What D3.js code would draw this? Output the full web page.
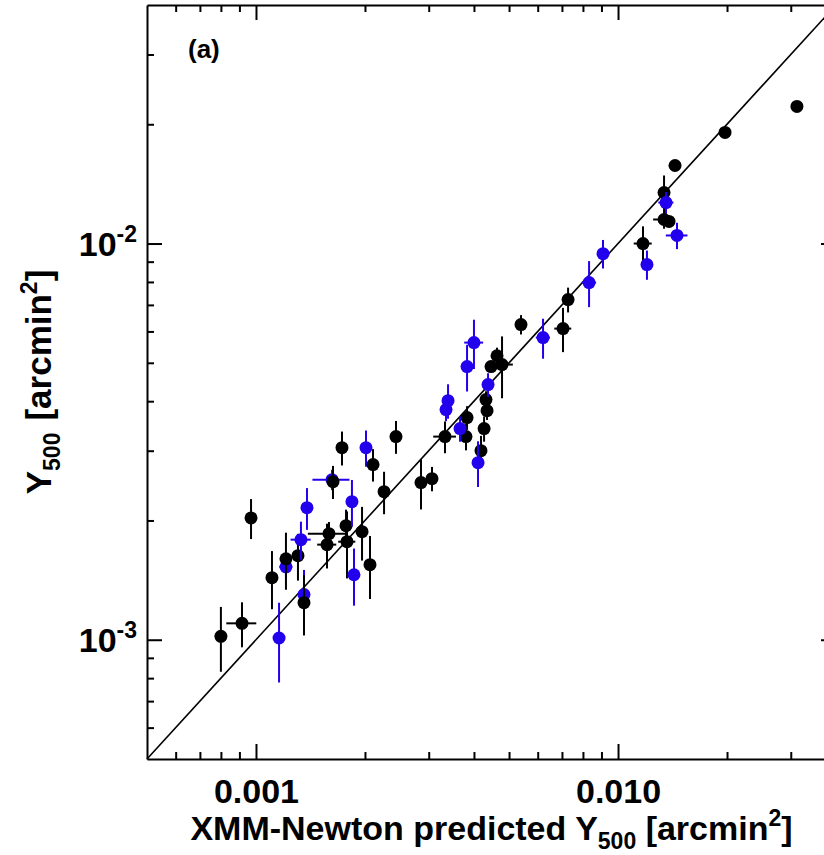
<!DOCTYPE html>
<html>
<head>
<meta charset="utf-8">
<script src="https://cdn.jsdelivr.net/npm/d3@7"></script>
<style>
  body { margin: 0; background: #fff; }
  svg { display: block; font-family: "Liberation Sans", Arial, Helvetica, sans-serif; font-weight: bold; }
</style>
</head>
<body>
<svg id="chart" width="824" height="855"></svg>
<script>
// XMM-Newton predicted Y500 (x) vs measured Y500 (y), arcmin^2, with 1-sigma errors.
// sample "a" = black points, "b" = blue points. Listed in drawing order.
const predY500 = [0.00080, 0.000915, 0.000969, 0.001107, 0.001158, 0.00121, 0.00121, 0.001306, 0.001331, 0.001357,
  0.001357, 0.001383, 0.001571, 0.001591, 0.001622, 0.001632, 0.001728, 0.001773, 0.001784, 0.001841,
  0.001865, 0.001963, 0.002013, 0.002065, 0.002105, 0.002258, 0.002436, 0.002856, 0.003063, 0.003327,
  0.003349, 0.003392, 0.003802, 0.003828, 0.003661, 0.003828, 0.0040, 0.004183, 0.004105, 0.004266,
  0.004347, 0.004318, 0.004375, 0.004459, 0.004632, 0.004782, 0.005395, 0.006207, 0.007047, 0.007278,
  0.008318, 0.00909, 0.01172, 0.01202, 0.0134, 0.01357, 0.0134, 0.01383, 0.01455, 0.01437,
  0.01975, 0.0312];
const predErr = [0, 0.000087, 0, 0, 0, 0.00005, 0, 0, 0.000085, 0,
  0, 0, 0.000095, 0.0002, 0.00019, 0, 0, 0, 0.000097, 0,
  0, 0, 0, 0, 0, 0, 0, 0, 0, 0.00024,
  0, 0, 0, 0, 0, 0, 0.00024, 0, 0, 0,
  0, 0, 0, 0, 0, 0.00034, 0, 0.00028, 0.00038, 0.00027,
  0.00038, 0, 0.00067, 0, 0, 0.00065, 0.0009, 0, 0.001, 0.00055,
  0, 0];
const obsY500 = [0.00102, 0.00110, 0.00203, 0.001434, 0.00101, 0.001528, 0.00160, 0.00163, 0.001789, 0.00130,
  0.00124, 0.002154, 0.001738, 0.001852, 0.002535, 0.002506, 0.003053, 0.00194, 0.001768, 0.002231,
  0.001459, 0.001874, 0.003053, 0.001547, 0.002767, 0.002364, 0.003256, 0.002492, 0.00255, 0.003256,
  0.00381, 0.004013, 0.003256, 0.003636, 0.003411, 0.004892, 0.005623, 0.0030, 0.002799, 0.003411,
  0.003786, 0.004037, 0.004405, 0.004892, 0.00521, 0.004949, 0.006245, 0.00579, 0.0061, 0.00722,
  0.00797, 0.00943, 0.0100, 0.00885, 0.01345, 0.01269, 0.0115, 0.01137, 0.01048, 0.01574,
  0.01907, 0.02218];
const obsErr = [0.00019, 0.000143, 0.000235, 0.00024, 0.00023, 0.0001, 0.000263, 0.00022, 0.000197, 0.0002,
  0.000215, 0.00026, 0.000225, 0.00013, 0.00015, 0.00024, 0.0003, 0.00019, 0.00034, 0.0003,
  0.00024, 0.00029, 0.00032, 0.00028, 0.00026, 0.00029, 0.00031, 0.00036, 0.00018, 0.0003,
  0.00025, 0.0004, 0.00025, 0.00025, 0.00025, 0.00066, 0.0008, 0.00027, 0.00037, 0.00025,
  0.0002, 0.0002, 0.0003, 0.00015, 0.00025, 0.00088, 0.00035, 0.00067, 0.00078, 0.00052,
  0.00106, 0.00078, 0.00105, 0.00075, 0.0014, 0.0008, 0.0006, 0.0003, 0.0008, 0.0003,
  0.0003, 0.0004];
const sample = ["a", "a", "a", "a", "b", "b", "a", "a", "b", "b",
  "a", "b", "a", "a", "b", "a", "a", "a", "a", "b",
  "b", "a", "b", "a", "a", "a", "a", "a", "a", "a",
  "b", "b", "a", "a", "b", "b", "b", "a", "b", "a",
  "a", "a", "b", "a", "a", "a", "a", "b", "a", "a",
  "b", "b", "a", "b", "a", "b", "a", "a", "b", "a",
  "a", "a"];

const xMajor = [0.001, 0.01];
const xMajorLabels = ["0.001", "0.010"];
const xMinor = [0.0006, 0.0007, 0.0008, 0.0009, 0.002, 0.003, 0.004, 0.005, 0.006, 0.007, 0.008, 0.009, 0.02, 0.03];
const yMajor = [0.001, 0.01];
const yMajorExp = ["-3", "-2"];
const yMinor = xMinor;

const color = {a: "#000000", b: "#2200ee"};

const svg = d3.select("#chart");
const x0 = 147, x1 = 836, y0 = 759, y1 = 5; // right edge of the frame falls outside the page

const x = d3.scaleLog().domain([5e-4, 4e-2]).range([x0, x1]);
const y = d3.scaleLog().domain([5e-4, 4e-2]).range([y0, y1]);

const styleAxis = g => {
  g.attr("font-size", null).attr("font-family", null);
  g.selectAll("path, line").attr("stroke", "#000").attr("stroke-width", 2);
};

// frame + ticks on all four sides, pointing inward
function axisSet(make, scale, pos, transform, major, minor, fmt) {
  svg.append("g").attr("transform", transform)
      .call(make(scale).tickValues(minor).tickSize(-7).tickSizeOuter(0).tickFormat(""))
      .call(styleAxis)
      .call(g => g.select(".domain").remove());
  return svg.append("g").attr("transform", transform)
      .call(make(scale).tickValues(major).tickSize(-15).tickSizeOuter(0).tickPadding(pos).tickFormat(fmt))
      .call(styleAxis);
}

const xAxis = axisSet(d3.axisBottom, x, 20, `translate(0,${y0})`, xMajor, xMinor, (d, i) => xMajorLabels[i]);
xAxis.selectAll("text").attr("font-size", 34).attr("fill", "#000");
axisSet(d3.axisTop, x, 0, `translate(0,${y1})`, xMajor, xMinor, "");

const yAxis = axisSet(d3.axisLeft, y, 10, `translate(${x0},0)`, yMajor, yMinor, "");
yAxis.selectAll(".tick text").each(function(d, i) {
  const t = d3.select(this).attr("font-size", 34).attr("fill", "#000").attr("dy", "0.36em");
  t.append("tspan").text("10");
  t.append("tspan").attr("font-size", 23).attr("dy", -14).text(yMajorExp[i]);
});
axisSet(d3.axisRight, y, 0, `translate(${x1},0)`, yMajor, yMinor, "");

// one-to-one line
svg.append("line")
    .attr("x1", x(5e-4)).attr("y1", y(5e-4))
    .attr("x2", x(4e-2)).attr("y2", y(4e-2))
    .attr("stroke", "#000").attr("stroke-width", 1.6);

// points with error bars
const pts = predY500.map((v, i) => ({x: v, dx: predErr[i], y: obsY500[i], dy: obsErr[i], s: sample[i]}));

const pt = svg.append("g").selectAll("g")
    .data(pts)
    .join("g")
    .attr("stroke", d => color[d.s])
    .attr("fill", d => color[d.s]);

pt.append("line")
    .attr("x1", d => x(d.x)).attr("x2", d => x(d.x))
    .attr("y1", d => y(d.y - d.dy)).attr("y2", d => y(d.y + d.dy))
    .attr("stroke-width", 2);

pt.filter(d => d.dx > 0).append("line")
    .attr("x1", d => x(d.x - d.dx)).attr("x2", d => x(d.x + d.dx))
    .attr("y1", d => y(d.y)).attr("y2", d => y(d.y))
    .attr("stroke-width", 2);

pt.append("circle")
    .attr("cx", d => x(d.x)).attr("cy", d => y(d.y))
    .attr("r", 6.5)
    .attr("stroke", "none");

// panel label
svg.append("text").attr("x", 188).attr("y", 58).attr("font-size", 26).text("(a)");

// axis titles
const xt = svg.append("text")
    .attr("x", (x0 + x1) / 2).attr("y", 840)
    .attr("text-anchor", "middle").attr("font-size", 34);
xt.append("tspan").text("XMM-Newton predicted Y");
xt.append("tspan").attr("font-size", 23).attr("dy", 9).text("500");
xt.append("tspan").attr("dy", -9).text(" [arcmin");
xt.append("tspan").attr("font-size", 23).attr("dy", -14).text("2");
xt.append("tspan").attr("dy", 14).text("]");

const yt = svg.append("text")
    .attr("transform", `translate(51,${(y0 + y1) / 2}) rotate(-90)`)
    .attr("text-anchor", "middle").attr("font-size", 35);
yt.append("tspan").text("Y");
yt.append("tspan").attr("font-size", 23).attr("dy", 9).text("500");
yt.append("tspan").attr("dy", -9).attr("dx", 12).text("[arcmin");
yt.append("tspan").attr("font-size", 23).attr("dy", -14).text("2");
yt.append("tspan").attr("dy", 14).text("]");
</script>
</body>
</html>
